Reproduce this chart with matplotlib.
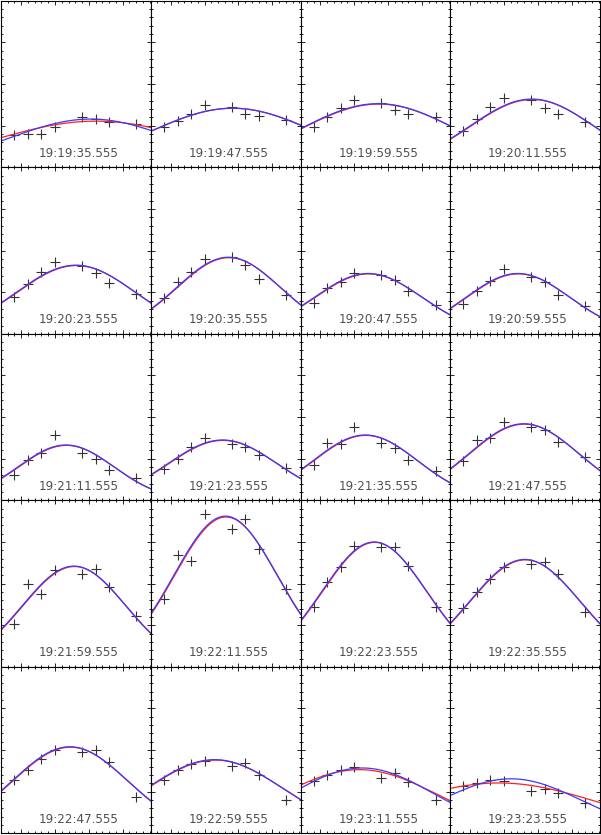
import numpy as np
import matplotlib
matplotlib.use('Agg')
import matplotlib.pyplot as plt
from matplotlib.ticker import MultipleLocator

# heure de chaque image
times = ['19:19:35.555', '19:19:47.555', '19:19:59.555', '19:20:11.555',
         '19:20:23.555', '19:20:35.555', '19:20:47.555', '19:20:59.555',
         '19:21:11.555', '19:21:23.555', '19:21:35.555', '19:21:47.555',
         '19:21:59.555', '19:22:11.555', '19:22:23.555', '19:22:35.555',
         '19:22:47.555', '19:22:59.555', '19:23:11.555', '19:23:23.555']

# positions des mesures (croix)
x_pts = [-0.5, 0.5, 1.5, 2.5, 3.5, 4.5, 5.5, 6.5, 7.5, 8.5]

nan = np.nan
y_pts = [
    [0.77, 0.81, 0.81, 0.98, nan, 1.22, 1.15, 1.08, nan, 1.03],
    [0.97, 1.11, 1.27, 1.49, nan, 1.45, 1.29, 1.24, nan, 1.14],
    [0.98, 1.21, 1.43, 1.62, nan, 1.54, 1.38, 1.29, nan, 1.21],
    [0.87, 1.16, 1.45, 1.67, nan, 1.62, 1.43, 1.27, nan, 1.08],
    [0.89, 1.19, 1.48, 1.73, nan, 1.64, 1.47, 1.21, nan, 0.96],
    [0.87, 1.24, 1.48, 1.80, nan, 1.84, 1.65, 1.32, nan, 0.93],
    [0.75, 1.09, 1.24, 1.47, nan, 1.41, 1.29, 1.04, nan, 0.69],
    [0.71, 1.03, 1.27, 1.55, nan, 1.37, 1.25, 0.93, nan, 0.67],
    [0.60, 0.96, 1.13, 1.56, nan, 1.13, 1.00, 0.74, nan, 0.54],
    [0.76, 1.00, 1.29, 1.49, nan, 1.36, 1.29, 1.10, nan, 0.78],
    [0.86, 1.37, 1.36, 1.77, nan, 1.37, 1.26, 0.96, nan, 0.70],
    [0.94, 1.45, 1.50, 1.88, nan, 1.76, 1.69, 1.40, nan, 1.05],
    [1.03, 1.99, 1.75, 2.32, nan, 2.23, 2.34, 1.91, nan, 1.21],
    [1.63, 2.68, 2.54, 3.66, nan, 3.30, 3.56, 2.84, nan, 1.87],
    [1.43, 2.04, 2.40, 2.90, nan, 2.87, 2.88, 2.42, nan, 1.43],
    [1.41, 1.80, 2.10, 2.40, nan, 2.48, 2.52, 2.23, nan, 1.31],
    [1.28, 1.53, 1.79, 1.99, nan, 1.96, 2.01, 1.71, nan, 0.87],
    [1.29, 1.51, 1.67, 1.73, nan, 1.61, 1.69, 1.41, nan, 0.81],
    [1.25, 1.41, 1.53, 1.59, nan, 1.33, 1.45, 1.23, nan, 0.81],
    [1.13, 1.21, 1.29, 1.25, nan, 1.01, 1.07, 0.97, nan, 0.73],
]

# parametres des ajustements gaussiens : hauteur, centre, largeur
red_h = [1.11, 1.42, 1.52, 1.63, 1.64, 1.83, 1.44, 1.44, 1.32, 1.44,
         1.56, 1.83, 2.41, 3.60, 2.99, 2.57, 2.07, 1.76, 1.53, 1.21]
red_c = [5.51, 4.60, 4.30, 4.60, 4.08, 4.30, 3.57, 3.57, 3.35, 3.86,
         3.35, 4.01, 3.94, 4.08, 4.01, 4.08, 3.64, 3.28, 2.87, 2.13]
red_s = [7.43, 6.10, 5.74, 4.56, 4.38, 3.82, 3.97, 3.82, 3.53, 4.04,
         3.86, 4.08, 3.82, 3.82, 3.85, 4.10, 4.26, 5.07, 5.81, 7.50]

blue_h = [1.16, 1.42, 1.53, 1.64, 1.65, 1.84, 1.45, 1.45, 1.33, 1.45,
          1.57, 1.84, 2.42, 3.62, 3.00, 2.58, 2.08, 1.77, 1.57, 1.31]
blue_c = [5.15, 4.56, 4.26, 4.56, 4.04, 4.26, 3.53, 3.53, 3.31, 3.82,
          3.31, 3.97, 3.90, 4.04, 3.97, 4.04, 3.60, 3.24, 3.09, 3.01]
blue_s = [6.03, 6.10, 5.74, 4.56, 4.38, 3.82, 3.97, 3.82, 3.53, 4.04,
          3.86, 4.08, 3.82, 3.82, 3.85, 4.10, 4.26, 5.07, 5.29, 5.22]


def gauss(x, h, c, s):
    return h * np.exp(-0.5 * ((x - c) / s) ** 2)


def main() -> None:
    fig, axes = plt.subplots(5, 4, figsize=(6.01, 8.35), dpi=100)
    fig.subplots_adjust(left=0.002, right=0.998, bottom=0.002, top=0.999,
                        wspace=0, hspace=0)

    x0, x1 = -1.47, 9.58
    xx = np.linspace(x0, x1, 300)

    for i, ax in enumerate(axes.flat):
        ax.plot(x_pts, y_pts[i], ls='none', marker='+', ms=6.5, mew=0.8,
                color='#333333')
        ax.plot(xx, gauss(xx, red_h[i], red_c[i], red_s[i]), color='#ff2020', lw=0.9)
        ax.plot(xx, gauss(xx, blue_h[i], blue_c[i], blue_s[i]), color='#3a3aff', lw=0.9)

        ax.text(0.52, 0.085, times[i], transform=ax.transAxes, ha='center',
                va='center', fontsize=8.6, color='#505050')

        ax.set_xlim(x0, x1)
        ax.set_ylim(0, 4)
        ax.xaxis.set_major_locator(MultipleLocator(2.5))
        ax.xaxis.set_minor_locator(MultipleLocator(0.5))
        ax.yaxis.set_major_locator(MultipleLocator(1))
        ax.yaxis.set_minor_locator(MultipleLocator(0.2))
        ax.tick_params(which='both', direction='in', top=True, right=True,
                       labelbottom=False, labelleft=False, width=0.7, color='#222222')
        ax.tick_params(which='major', length=3)
        ax.tick_params(which='minor', length=1.6)
        for sp in ax.spines.values():
            sp.set_linewidth(0.8)

    fig.savefig('out.png', dpi=100)


if __name__ == '__main__':
    main()
